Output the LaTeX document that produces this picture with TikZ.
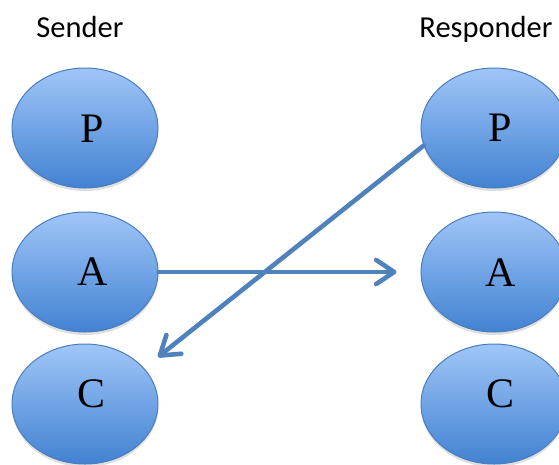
\documentclass[tikz,border=0pt]{standalone}
\usepackage{fontspec}
\setmainfont{Liberation Serif}
\newfontfamily\hdrfont{Carlito}
\usetikzlibrary{shapes.geometric,arrows.meta,shadows}
\definecolor{ellTop}{HTML}{A0C6F8}
\definecolor{ellBot}{HTML}{4282D2}
\definecolor{ellLine}{HTML}{4A7EBB}
\definecolor{arrowBlue}{HTML}{4F81BD}
\tikzset{
  bubble/.style={ellipse, draw=ellLine, line width=1pt, top color=ellTop, bottom color=ellBot,
    minimum width=146pt, minimum height=120pt, inner sep=0pt,
    drop shadow={opacity=0.25, shadow xshift=0pt, shadow yshift=-3pt}},
  letter/.style={inner sep=0pt, font=\fontsize{42}{42}\selectfont},
  header/.style={inner sep=0pt, anchor=base, font=\hdrfont\fontsize{30.5}{30.5}\selectfont},
  link/.style={draw=arrowBlue, line width=4.6pt, line cap=round,
    -{Straight Barb[length=18pt, width=24pt, line width=4.6pt, line cap=round, round]}}
}
\begin{document}
\begin{tikzpicture}[x=1pt, y=-1pt]
\useasboundingbox (0,0) rectangle (559,464);
\clip (0,0) rectangle (559,464);
\node[header] (sender) at (80,37) {Sender};
\node[header] (responder) at (486,37) {Responder};
\node[bubble] (sP) at (85,128) {};
\node[bubble] (sA) at (85,272) {};
\node[bubble] (sC) at (85,404) {};
\node[bubble] (rP) at (494,128) {};
\node[bubble] (rA) at (494,272) {};
\node[bubble] (rC) at (494,404) {};
\node[letter] (sPt) at (92,129) {P};
\node[letter] (sAt) at (93,272) {A};
\node[letter] (sCt) at (92,394) {C};
\node[letter] (rPt) at (500,128) {P};
\node[letter] (rAt) at (501,273) {A};
\node[letter] (rCt) at (500,394) {C};
\coordinate (cTip) at (158,357);
\draw[link] (sA.east) -- ([xshift=-24pt]rA.west);
\draw[link] (rP.194) -- (cTip);
\end{tikzpicture}
\end{document}
